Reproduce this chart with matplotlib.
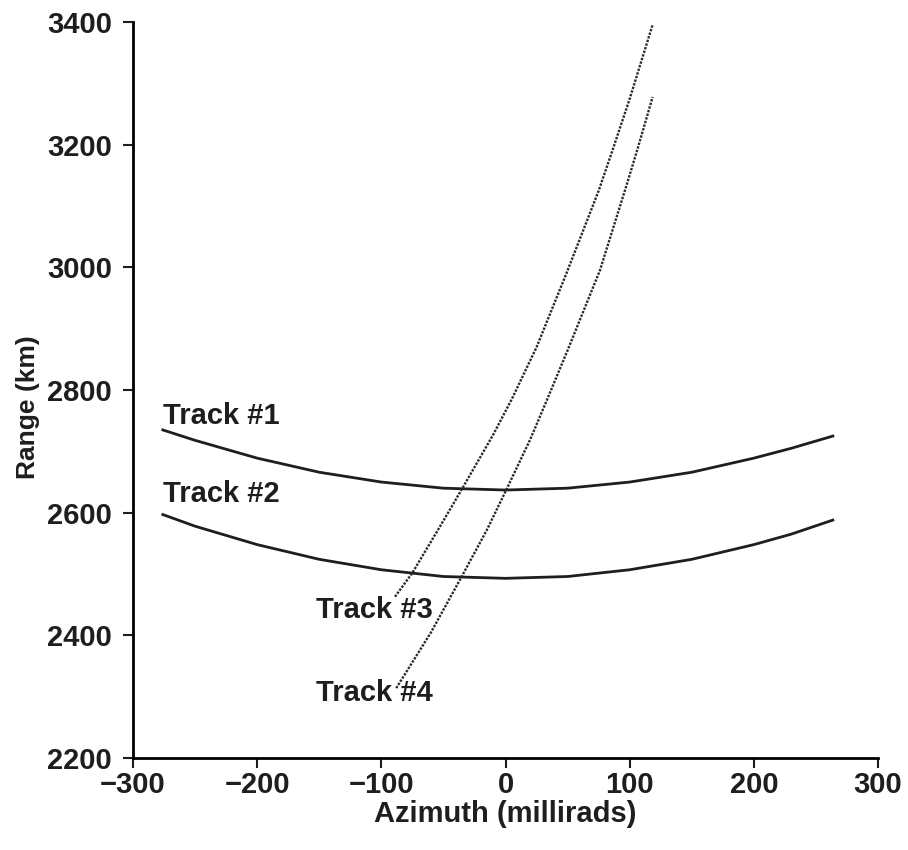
import matplotlib.pyplot as plt

# Track data: azimuth (millirads) vs range (km)
track1_az = [-276, -250, -200, -150, -100, -50, 0, 50, 100, 150, 200, 230, 263.6]
track1_rng = [2735, 2718, 2689, 2666, 2650, 2640, 2637, 2640, 2650, 2666, 2689, 2705, 2725]

track2_az = [-276, -250, -200, -150, -100, -50, 0, 50, 100, 150, 200, 230, 263.6]
track2_rng = [2597, 2578, 2548, 2524, 2507, 2496, 2493, 2496, 2507, 2524, 2548, 2565, 2588]

track3_az = [-89, -75, -50, -35, -10, 5, 25, 49, 75, 86, 100, 118.5]
track3_rng = [2463, 2502, 2587, 2639, 2727, 2785, 2870, 2990, 3125, 3190, 3275, 3396]

track4_az = [-88, -60, -35, -15, 1, 20, 34, 50, 76, 97, 106, 118.5]
track4_rng = [2314, 2405, 2497, 2572, 2639, 2720, 2787, 2865, 2995, 3131, 3191, 3278]

labels = ["Track #1", "Track #2", "Track #3", "Track #4"]
label_pos = [(-276, 2758), (-276, 2630), (-153, 2441), (-153, 2306)]

x_ticks = [-300, -200, -100, 0, 100, 200, 300]
y_ticks = [2200, 2400, 2600, 2800, 3000, 3200, 3400]

plt.rcParams['font.family'] = ['Liberation Sans', 'DejaVu Sans']
plt.rcParams['font.weight'] = 'bold'

fig = plt.figure(figsize=(9.08, 8.5), dpi=100)
ax = fig.add_axes([0.1465, 0.1082, 0.8205, 0.8658])

ax.plot(track1_az, track1_rng, color='#1e1e1e', linewidth=2)
ax.plot(track2_az, track2_rng, color='#1e1e1e', linewidth=2)
ax.plot(track3_az, track3_rng, color='#2a2a2a', linewidth=1.7, linestyle=(0, (1.0, 0.6)))
ax.plot(track4_az, track4_rng, color='#2a2a2a', linewidth=1.7, linestyle=(0, (1.0, 0.6)))

for text, (x, y) in zip(labels, label_pos):
    ax.text(x, y, text, fontsize=21, fontweight='bold', color='#1e1e1e',
            ha='left', va='center')

ax.set_xlim(-300, 300)
ax.set_ylim(2200, 3400)
ax.set_xticks(x_ticks)
ax.set_yticks(y_ticks)
ax.set_xticklabels(['\u2212' + str(-v) if v < 0 else str(v) for v in x_ticks])

ax.spines['top'].set_visible(False)
ax.spines['right'].set_visible(False)
ax.spines['left'].set_linewidth(2)
ax.spines['bottom'].set_linewidth(2)
ax.tick_params(direction='out', length=7, width=1.5, labelsize=21, colors='#1e1e1e', pad=8)
ax.tick_params(axis='x', pad=2)
for lab in ax.get_xticklabels() + ax.get_yticklabels():
    lab.set_fontweight('bold')

ax.set_xlabel('Azimuth (millirads)', fontsize=21, fontweight='bold', color='#1e1e1e', labelpad=1)
ax.set_ylabel('Range (km)', fontsize=19, fontweight='bold', color='#1e1e1e')
ax.yaxis.set_label_coords(-0.125, 0.477)

fig.savefig('out.png', dpi=100)
